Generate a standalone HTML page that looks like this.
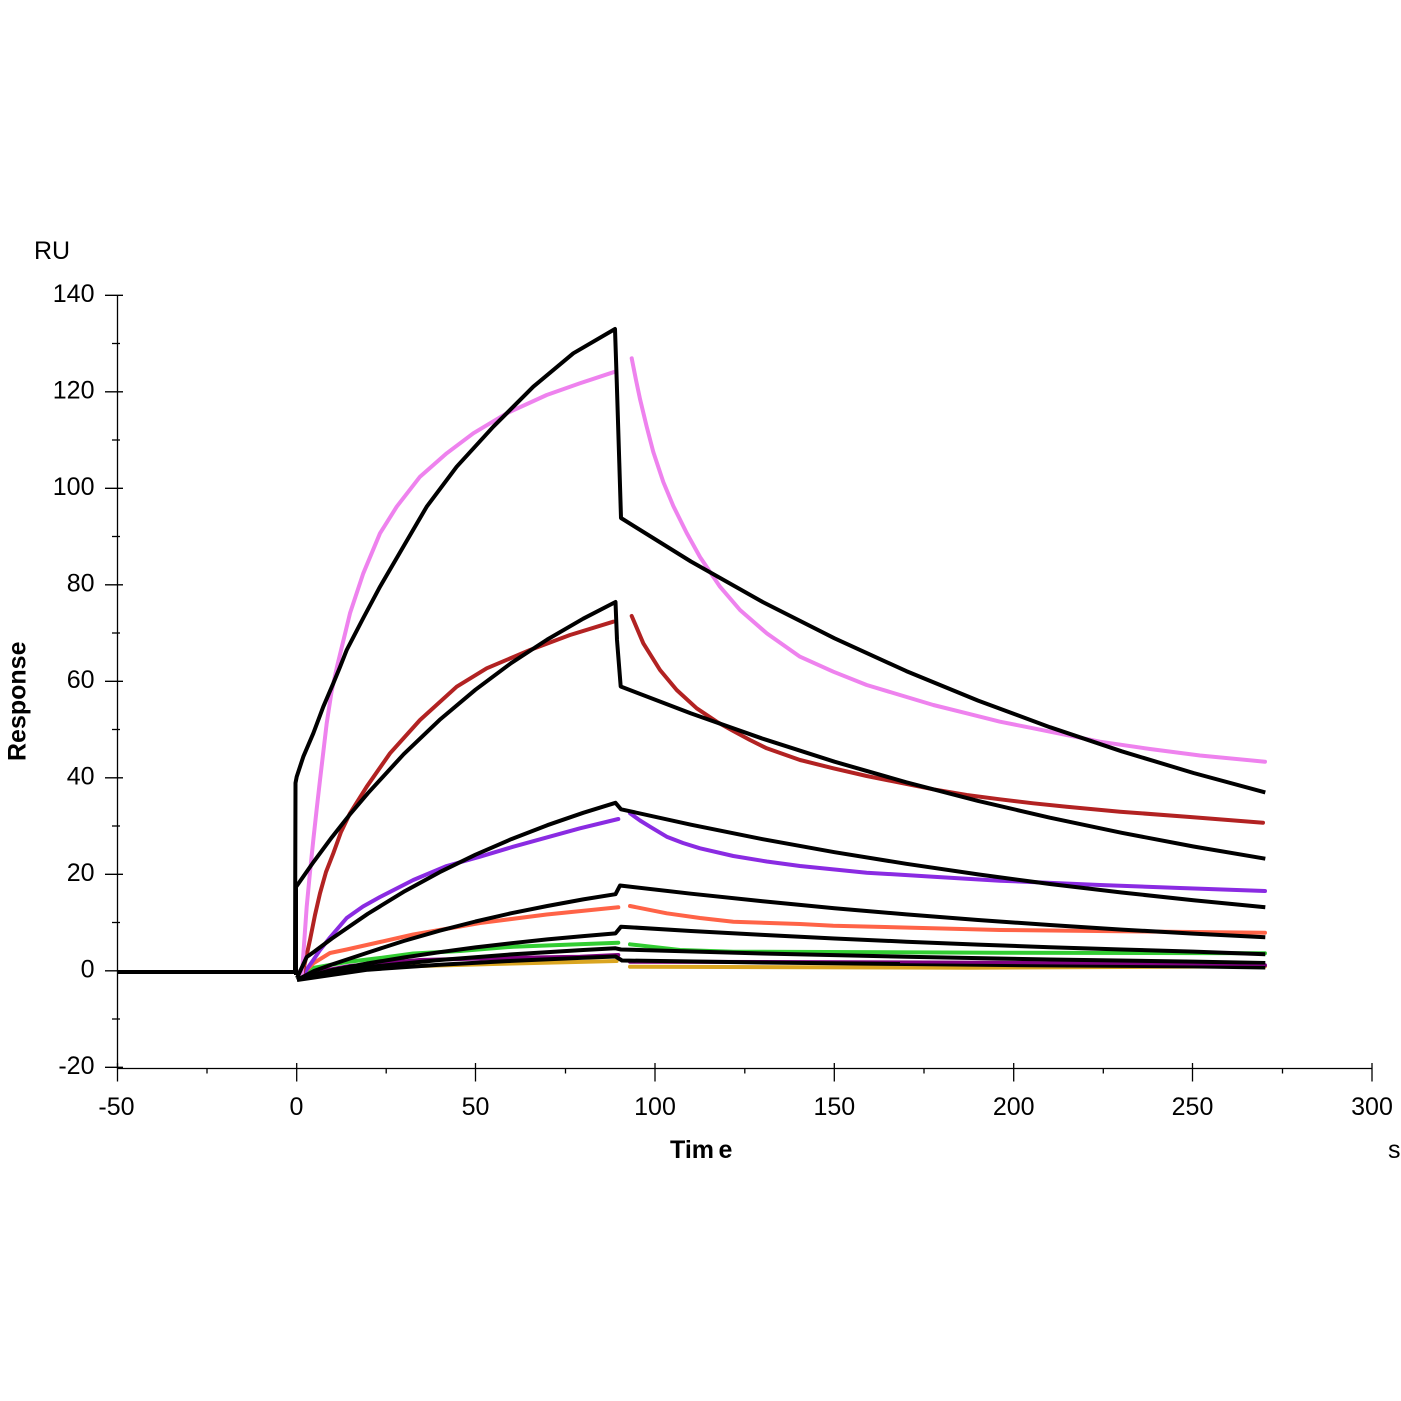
<!DOCTYPE html>
<html>
<head>
<meta charset="utf-8">
<style>
html,body{margin:0;padding:0;background:#fff;}
svg{display:block;}
text{font-family:"Liberation Sans",Arial,sans-serif;fill:#000;}
</style>
</head>
<body>
<svg width="1401" height="1401" viewBox="0 0 1401 1401" xmlns="http://www.w3.org/2000/svg">
<rect width="1401" height="1401" fill="#fff"/>

<!-- Axes -->
<g stroke="#000" stroke-width="1.3" fill="none">
  <line x1="117.5" y1="295" x2="117.5" y2="1068.5"/>
  <line x1="117" y1="1068.5" x2="1372.5" y2="1068.5"/>
  <line x1="105" y1="295.3" x2="123" y2="295.3"/>
  <line x1="105" y1="391.8" x2="123" y2="391.8"/>
  <line x1="105" y1="488.3" x2="123" y2="488.3"/>
  <line x1="105" y1="584.8" x2="123" y2="584.8"/>
  <line x1="105" y1="681.3" x2="123" y2="681.3"/>
  <line x1="105" y1="777.8" x2="123" y2="777.8"/>
  <line x1="105" y1="874.3" x2="123" y2="874.3"/>
  <line x1="105" y1="970.8" x2="123" y2="970.8"/>
  <line x1="105" y1="1067.3" x2="123" y2="1067.3"/>
  <line x1="112" y1="343.5" x2="120" y2="343.5"/>
  <line x1="112" y1="440" x2="120" y2="440"/>
  <line x1="112" y1="536.5" x2="120" y2="536.5"/>
  <line x1="112" y1="633" x2="120" y2="633"/>
  <line x1="112" y1="729.5" x2="120" y2="729.5"/>
  <line x1="112" y1="826" x2="120" y2="826"/>
  <line x1="112" y1="922.5" x2="120" y2="922.5"/>
  <line x1="112" y1="1019" x2="120" y2="1019"/>
  <line x1="117.5" y1="1063" x2="117.5" y2="1081.5"/>
  <line x1="296.7" y1="1063" x2="296.7" y2="1081.5"/>
  <line x1="475.5" y1="1063" x2="475.5" y2="1081.5"/>
  <line x1="655" y1="1063" x2="655" y2="1081.5"/>
  <line x1="834.3" y1="1063" x2="834.3" y2="1081.5"/>
  <line x1="1013.7" y1="1063" x2="1013.7" y2="1081.5"/>
  <line x1="1192.5" y1="1063" x2="1192.5" y2="1081.5"/>
  <line x1="1372" y1="1063" x2="1372" y2="1081.5"/>
  <line x1="207" y1="1068" x2="207" y2="1073.5"/>
  <line x1="386.2" y1="1068" x2="386.2" y2="1073.5"/>
  <line x1="565.5" y1="1068" x2="565.5" y2="1073.5"/>
  <line x1="744.8" y1="1068" x2="744.8" y2="1073.5"/>
  <line x1="924" y1="1068" x2="924" y2="1073.5"/>
  <line x1="1103.3" y1="1068" x2="1103.3" y2="1073.5"/>
  <line x1="1282.5" y1="1068" x2="1282.5" y2="1073.5"/>
</g>

<g font-size="25" text-anchor="end">
  <text x="94.5" y="302">140</text>
  <text x="94.5" y="398.5">120</text>
  <text x="94.5" y="495">100</text>
  <text x="94.5" y="591.5">80</text>
  <text x="94.5" y="688">60</text>
  <text x="94.5" y="784.5">40</text>
  <text x="94.5" y="881">20</text>
  <text x="94.5" y="977.5">0</text>
  <text x="94.5" y="1074">-20</text>
</g>
<g font-size="25" text-anchor="middle">
  <text x="116.5" y="1115">-50</text>
  <text x="296.5" y="1115">0</text>
  <text x="475.5" y="1115">50</text>
  <text x="655" y="1115">100</text>
  <text x="834.3" y="1115">150</text>
  <text x="1013.7" y="1115">200</text>
  <text x="1192.5" y="1115">250</text>
  <text x="1372" y="1115">300</text>
</g>

<text x="34" y="259" font-size="25">RU</text>
<text x="1388" y="1158" font-size="25">s</text>
<text x="670" y="1158" font-size="25" font-weight="bold">Tim<tspan dx="4.5">e</tspan></text>
<text transform="translate(25.5,761) rotate(-90)" font-size="25" font-weight="bold">Response</text>

<g fill="none" stroke-width="4" stroke-linejoin="round" stroke-linecap="round">
  <path stroke="#DAA520" d="M300,975 L350,969 L420,966 L493,964 L616.7,961"/>
  <path stroke="#DAA520" d="M630,966.7 L970,967.7 L1265,966.3"/>
  <path stroke="#800080" d="M300,975 L350,966 L420,960 L500,958 L580,956.7 L618.3,955"/>
  <path stroke="#800080" d="M630,961.7 L1000,962.7 L1265,965.3"/>
  <path stroke="#32CD32" d="M300,974 L313,968 L346.7,962 L380,958 L413.3,953.5 L460,951 L513.3,946.7 L618.3,942.7"/>
  <path stroke="#32CD32" d="M630,944.3 L680,950 L733.3,951.7 L1000,952.7 L1265,953.3"/>
  <path stroke="#FF6347" d="M298,972 L301,975 L306.7,970 L313.3,963.3 L330,953 L346.7,949.5 L380,942 L413.3,934.5 L460,926.5 L480,923 L546.7,914.5 L618.3,907.3"/>
  <path stroke="#FF6347" d="M630,906 L666.7,913.3 L700,918 L733.3,921.7 L800,924 L833.3,925.7 L1000,930 L1265,932.7"/>
  <path stroke="#8A2BE2" d="M298,972 L301.7,978 L307,969 L313.3,960 L320,950 L330,937.5 L346.7,918 L363,906.5 L380,897 L413.3,880 L446.7,866 L480,856.7 L513.3,846.7 L580,828.3 L618.3,819"/>
  <path stroke="#8A2BE2" d="M630,813.3 L640,820.5 L650,826.7 L666.7,836.7 L683,843 L700,848.3 L733.3,856 L766.7,861.5 L800,866 L866.7,872.7 L933.3,876.7 L1000,880.7 L1100,885 L1180,888 L1265,891"/>
  <path stroke="#B22222" d="M298,972 L301.7,976.7 L306,958 L310,940 L315,915 L320,893.3 L326,872 L333.3,853.3 L341,832 L350,813.3 L366.7,786.7 L390,753.3 L420,720 L456.7,686.7 L486.7,668.3 L530,650 L570,635 L613.3,621.7"/>
  <path stroke="#B22222" d="M631.7,616 L643.3,643.3 L660,670 L676.7,690 L696.7,708.3 L716.7,721.7 L733.3,731 L750,740 L766.7,748.3 L800,760 L833.3,768.3 L866.7,776 L900,782.7 L933.3,789.3 L966.7,795 L1000,799.3 L1033.3,803.3 L1066.7,806.7 L1120,811.7 L1190,817 L1263,822.7"/>
  <path stroke="#EE82EE" d="M298,972 L301.7,976.7 L304,945 L306.7,906.7 L310,872 L313.3,840 L316.7,809 L320,780 L326.7,723.3 L331.5,692 L336.7,668 L350,613.3 L363.3,573.3 L380,533.3 L396.7,506.7 L420,476.7 L446.7,453.3 L473.3,433.3 L506.7,413.3 L546.7,395 L580,383.3 L615,371.7"/>
  <path stroke="#EE82EE" d="M631.7,358.3 L636,380 L640,399 L646.7,426.7 L653.3,452 L663.3,482 L673.3,506 L686.7,533 L700,557 L720,586.7 L740,610 L766.7,633.3 L800,656.7 L833.3,671.7 L866.7,685 L900,695 L933.3,705 L966.7,713.3 L1000,721.7 L1033.3,728.3 L1066.7,735 L1100,741.7 L1150,749 L1200,755.5 L1265,761.7"/>
</g>

<g fill="none" stroke="#000" stroke-width="4" stroke-linejoin="round" stroke-linecap="butt">
  <path d="M117,972 L295,972 L295.5,783 L296.7,776.7 L303.3,756.7 L313.3,733.3 L323.3,706.7 L333.3,683.3 L340,667 L346.7,650 L363.3,618 L380,586.7 L403.3,546.7 L426.7,506.7 L456.7,466.7 L493.3,426.7 L533.3,386.7 L573.3,353.3 L615,329 L616.7,380 L619.3,463 L621,518 L690.9,561.5 L762.7,602 L834.5,638.3 L906.3,671.1 L978.1,700.6 L1049.9,727.2 L1121.7,751.3 L1193.5,773 L1265.3,792.4"/>
  <path d="M296,975 L296,887 L313.95,861.4 L331.9,837.2 L349.85,814.5 L367.8,793.3 L403.7,754.2 L439.6,719.9 L475.5,689.7 L511.4,662.9 L547.3,639.5 L583.2,618.7 L615.5,602 L617,640 L620.7,686.5 L690.9,713.4 L762.7,738.7 L834.5,761.7 L906.3,782.3 L978.1,800.9 L1049.9,817.7 L1121.7,832.8 L1193.5,846.5 L1265.3,858.7"/>
  <path d="M297,978 L306.7,957 L313.95,951.9 L331.9,938.5 L367.8,913.8 L403.7,891.8 L439.6,872.2 L475.5,854.7 L511.4,839.1 L547.3,825.2 L583.2,812.8 L615.5,802.8 L621,809.3 L690.9,824.7 L762.7,839.2 L834.5,852.2 L906.3,863.8 L978.1,874.4 L1049.9,884 L1121.7,892.5 L1193.5,900.3 L1265.3,907.3"/>
  <path d="M297,980 L313.95,971 L331.9,964.5 L367.8,952.6 L403.7,941 L439.6,930.7 L475.5,921.5 L511.4,913.2 L547.3,906 L583.2,899.4 L615.5,894.2 L620,885.5 L690.9,893.7 L762.7,901.3 L834.5,908.2 L906.3,914.4 L978.1,920 L1049.9,925 L1121.7,929.6 L1193.5,933.6 L1265.3,937.3"/>
  <path d="M297,979 L331.9,970.1 L367.8,963.4 L403.7,957.5 L439.6,952.2 L475.5,947.4 L511.4,943.2 L547.3,939.4 L583.2,936.1 L615.5,933.4 L621,926.7 L690.9,931 L762.7,934.9 L834.5,938.5 L906.3,941.7 L978.1,944.6 L1049.9,947.2 L1121.7,949.5 L1193.5,951.6 L1265.3,954.3"/>
  <path d="M297,979 L367.8,967 L439.6,960 L511.4,954.4 L583.2,950 L615.5,948.3 L621,949.5 L762.7,953.5 L906.3,956.8 L1049.9,959.5 L1193.5,961.6 L1265.3,963"/>
  <path d="M297,980 L367.8,969.7 L439.6,964.8 L511.4,960.9 L583.2,957.8 L615.5,956.5 L622,960.5 L762.7,962.5 L906.3,964 L1049.9,965.4 L1193.5,966.4 L1265.3,967.5"/>
</g>

<path fill="none" stroke="#800080" stroke-width="1.5" d="M900,962.5 L1265,965.3"/>
</svg>
</body>
</html>
